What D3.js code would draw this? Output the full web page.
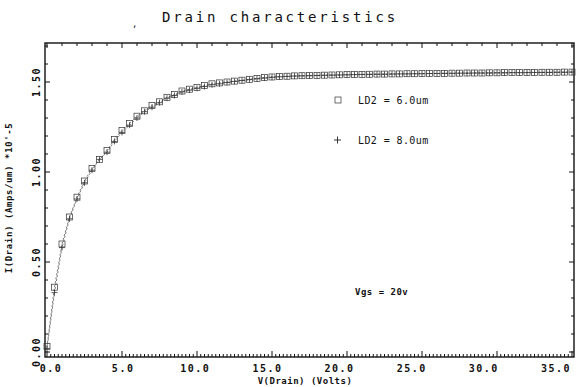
<!DOCTYPE html>
<html>
<head>
<meta charset="utf-8">
<script src="https://cdn.jsdelivr.net/npm/d3@7"></script>
<style>
  body { margin: 0; background: #fff; }
  svg text { font-family: "DejaVu Sans Mono", "Liberation Mono", monospace; fill: #111; }
</style>
</head>
<body>
<div id="chart"></div>
<script>
// drain voltage (V) sample points
var vDrain = [0, 0.5, 1, 1.5, 2, 2.5, 3, 3.5, 4, 4.5, 5, 5.5, 6, 6.5, 7, 7.5, 8, 8.5, 9, 9.5,
  10, 10.5, 11, 11.5, 12, 12.5, 13, 13.5, 14, 14.5, 15, 15.5, 16, 16.5, 17, 17.5, 18, 18.5, 19, 19.5,
  20, 20.5, 21, 21.5, 22, 22.5, 23, 23.5, 24, 24.5, 25, 25.5, 26, 26.5, 27, 27.5, 28, 28.5, 29, 29.5,
  30, 30.5, 31, 31.5, 32, 32.5, 33, 33.5, 34, 34.5, 35]
// I(drain) *1e-5 A/um, LD2 = 6.0um (squares)
var idLD6 = [0.03, 0.36, 0.60, 0.75, 0.86, 0.95, 1.02, 1.07, 1.12, 1.18, 1.23, 1.27, 1.31, 1.34, 1.37, 1.39, 1.415, 1.43, 1.45, 1.46,
  1.47, 1.48, 1.49, 1.495, 1.50, 1.505, 1.51, 1.515, 1.52, 1.525, 1.528, 1.53, 1.532, 1.534, 1.535, 1.536, 1.537, 1.538, 1.539, 1.54,
  1.541, 1.542, 1.542, 1.543, 1.544, 1.544, 1.545, 1.545, 1.546, 1.546, 1.547, 1.547, 1.548, 1.548, 1.549, 1.549, 1.55, 1.55, 1.55, 1.551,
  1.551, 1.552, 1.552, 1.552, 1.553, 1.553, 1.554, 1.554, 1.554, 1.555, 1.555]
// LD2 = 8.0um (plus)
var idLD8 = [0.02, 0.33, 0.58, 0.74, 0.85, 0.94, 1.01, 1.07, 1.11, 1.17, 1.22, 1.26, 1.30, 1.335, 1.36, 1.385, 1.41, 1.425, 1.445, 1.455,
  1.465, 1.475, 1.485, 1.49, 1.497, 1.503, 1.508, 1.513, 1.518, 1.522, 1.526, 1.529, 1.531, 1.533, 1.534, 1.535, 1.536, 1.537, 1.538, 1.539,
  1.54, 1.541, 1.542, 1.542, 1.543, 1.543, 1.544, 1.545, 1.545, 1.546, 1.546, 1.547, 1.547, 1.548, 1.548, 1.549, 1.549, 1.55, 1.55, 1.55,
  1.551, 1.551, 1.552, 1.552, 1.552, 1.553, 1.553, 1.553, 1.554, 1.554, 1.555]
var xTicks = [0, 5, 10, 15, 20, 25, 30, 35]
var yTicks = [0, 0.5, 1.0, 1.5]
var legendLabels = ["LD2 = 6.0um", "LD2 = 8.0um"]

var width = 578, height = 387
var frame = {left: 45, right: 574, top: 43, bottom: 357}

var x = d3.scaleLinear().domain([0, 35]).range([47, 572])
var y = d3.scaleLinear().domain([0, 1.5]).range([352, 82])
// the plotter put its x labels a little inside the ends
var xLab = d3.scaleLinear().domain([0, 35]).range([51, 556])

var svg = d3.select("#chart").append("svg")
  .attr("width", width)
  .attr("height", height)

// frame
svg.append("rect")
  .attr("x", frame.left).attr("y", frame.top)
  .attr("width", frame.right - frame.left).attr("height", frame.bottom - frame.top)
  .attr("fill", "none").attr("stroke", "#111").attr("stroke-width", 1.4)

// bottom ticks (fine), top ticks (every volt)
var ticks = svg.append("g").attr("stroke", "#111").attr("stroke-width", 1)
ticks.selectAll(".bt").data(d3.range(0, 35.01, 0.25)).join("line")
  .attr("x1", d => x(d)).attr("x2", d => x(d))
  .attr("y1", frame.bottom).attr("y2", d => frame.bottom - (d % 5 == 0 ? 6 : 3))
ticks.selectAll(".tt").data(d3.range(0, 35.01, 1)).join("line")
  .attr("x1", d => x(d)).attr("x2", d => x(d))
  .attr("y1", frame.top).attr("y2", d => frame.top + (d % 5 == 0 ? 5 : 3))
ticks.selectAll(".lt").data(d3.range(0, 1.71, 0.1)).join("line")
  .attr("y1", d => y(d)).attr("y2", d => y(d))
  .attr("x1", frame.left).attr("x2", (d, i) => frame.left + (i % 5 == 0 ? 5 : 3))
ticks.selectAll(".rt").data(d3.range(0, 1.71, 0.1)).join("line")
  .attr("y1", d => y(d)).attr("y2", d => y(d))
  .attr("x1", frame.right).attr("x2", (d, i) => frame.right - (i % 5 == 0 ? 5 : 3))

// tick labels
svg.append("g").selectAll("text").data(xTicks).join("text")
  .attr("x", d => xLab(d)).attr("y", 372)
  .attr("text-anchor", "middle")
  .style("font-size", "10px").style("font-weight", "bold").style("letter-spacing", "1.5px")
  .text(d => d.toFixed(1))
svg.append("g").selectAll("text").data(yTicks).join("text")
  .attr("transform", d => "translate(40," + y(d) + ") rotate(-90)")
  .attr("text-anchor", "middle")
  .style("font-size", "10px").style("font-weight", "bold").style("letter-spacing", "1.5px")
  .text(d => d.toFixed(2))

// axis titles
svg.append("text")
  .attr("x", 305).attr("y", 384)
  .attr("text-anchor", "middle")
  .style("font-size", "9px").style("font-weight", "bold").style("letter-spacing", "0.5px")
  .text("V(Drain) (Volts)")
svg.append("text")
  .attr("transform", "translate(12,198) rotate(-90)")
  .attr("text-anchor", "middle")
  .style("font-size", "9px").style("font-weight", "bold").style("letter-spacing", "0.6px")
  .text("I(Drain) (Amps/um) *10'-5")

// title
svg.append("text")
  .attr("x", 280).attr("y", 22)
  .attr("text-anchor", "middle")
  .style("font-size", "14px").style("letter-spacing", "2.8px")
  .text("Drain characteristics")
svg.append("text")
  .attr("x", 132).attr("y", 27)
  .style("font-size", "9px")
  .text(",")

// curves
var line = d3.line().x((d, i) => x(vDrain[i])).y(d => y(d))
;[idLD6, idLD8].forEach(function(s) {
  svg.append("path")
    .datum(s)
    .attr("fill", "none")
    .attr("stroke", "#555")
    .attr("stroke-width", 0.8)
    .attr("stroke-dasharray", "2,2")
    .attr("d", line)
})

// markers
svg.append("g").selectAll("rect").data(idLD6).join("rect")
  .attr("x", (d, i) => x(vDrain[i]) - 3).attr("y", d => y(d) - 3)
  .attr("width", 6).attr("height", 6)
  .attr("fill", "none").attr("stroke", "#333").attr("stroke-width", 0.7)
svg.append("g").selectAll("path").data(idLD8).join("path")
  .attr("d", (d, i) => {
    var cx = x(vDrain[i]), cy = y(d)
    return "M" + (cx - 3) + "," + cy + "H" + (cx + 3) + "M" + cx + "," + (cy - 3) + "V" + (cy + 3)
  })
  .attr("stroke", "#333").attr("stroke-width", 0.8)

// legend
var leg = svg.append("g")
leg.append("rect").attr("x", 335).attr("y", 97).attr("width", 6).attr("height", 6)
  .attr("fill", "none").attr("stroke", "#333").attr("stroke-width", 0.7)
leg.append("path").attr("d", "M334,140H341M337.5,136.5V143.5").attr("stroke", "#333")
leg.selectAll("text").data(legendLabels).join("text")
  .attr("x", 358).attr("y", (d, i) => i == 0 ? 104 : 144)
  .style("font-size", "10px").style("letter-spacing", "0.4px")
  .text(d => d)

svg.append("text")
  .attr("x", 355).attr("y", 295)
  .style("font-size", "9px").style("font-weight", "bold").style("letter-spacing", "0.5px")
  .text("Vgs = 20v")
</script>
</body>
</html>
